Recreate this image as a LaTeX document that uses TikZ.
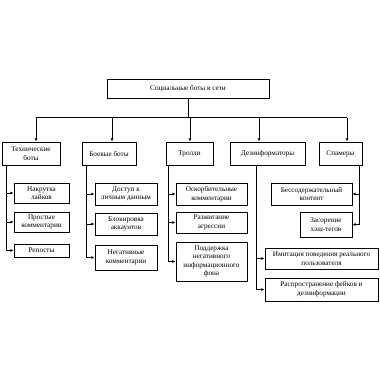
\documentclass[tikz,border=0pt]{standalone}
\usepackage{fontspec}
\setmainfont{Liberation Serif}
\usetikzlibrary{arrows.meta}
\begin{document}
\begin{tikzpicture}[x=1pt,y=-1pt,
  box/.style={draw,line width=0.9pt,align=center,inner sep=0pt,
    font=\fontsize{7.2}{8.6}\selectfont},
  conn/.style={line width=0.7pt},
  arr/.style={line width=0.7pt,-{Latex[length=3.2pt,width=3pt]}}]
\useasboundingbox (0,0) rectangle (380,380);
\fill[white] (0,0) rectangle (380,380);
% top
\node[box,minimum width=162pt,minimum height=19pt] (top) at (188,88.5) {Социальные боты в сети};
% level 1
\node[box,minimum width=58pt,minimum height=23pt] (tech) at (31,153.5) {Технические\\боты};
\node[box,minimum width=54pt,minimum height=23pt] (boev) at (109,153.5) {Боевые боты};
\node[box,minimum width=47pt,minimum height=23pt] (troll) at (189.5,153.5) {Тролли};
\node[box,minimum width=75pt,minimum height=23pt] (dez) at (267.5,153.5) {Дезинформаторы};
\node[box,minimum width=43pt,minimum height=23pt] (spam) at (340.5,153.5) {Спамеры};
% bus
\coordinate (bus) at (188,117.5);
\draw[conn] (top.south) -- (bus);
\draw[conn] (bus -| 36,0) -- (bus -| 347,0);
\draw[arr] (bus -| 36,0) -- (tech.north -| 36,0);
\draw[arr] (bus -| 112,0) -- (boev.north -| 112,0);
\draw[arr] (bus -| 190,0) -- (troll.north -| 190,0);
\draw[arr] (bus -| 259,0) -- (dez.north -| 259,0);
\draw[arr] (bus -| 347,0) -- (spam.north -| 347,0);
% level 2: tech
\node[box,minimum width=55pt,minimum height=20pt] (t1) at (41.5,193) {Накрутка\\лайков};
\node[box,minimum width=55pt,minimum height=20pt] (t2) at (41.5,222) {Простые\\комментарии};
\node[box,minimum width=55pt,minimum height=13pt] (t3) at (41.5,250.5) {Репосты};
\draw[conn] (tech.south -| 6,0) -- (t3.west -| 6,0);
\draw[arr] (t1.west -| 6,0) -- (t1.west);
\draw[arr] (t2.west -| 6,0) -- (t2.west);
\draw[arr] (t3.west -| 6,0) -- (t3.west);
% boev
\node[box,minimum width=62pt,minimum height=22pt] (b1) at (126,194) {Доступ к\\личным данным};
\node[box,minimum width=62pt,minimum height=22pt] (b2) at (126,224) {Блокировка\\аккаунтов};
\node[box,minimum width=62pt,minimum height=25pt] (b3) at (126,257.5) {Негативные\\комментарии};
\draw[conn] (boev.south -| 86,0) -- (b3.west -| 86,0);
\draw[arr] (b1.west -| 86,0) -- (b1.west);
\draw[arr] (b2.west -| 86,0) -- (b2.west);
\draw[arr] (b3.west -| 86,0) -- (b3.west);
% troll
\node[box,minimum width=71pt,minimum height=22pt] (r1) at (211.5,194) {Оскорбительные\\комментарии};
\node[box,minimum width=71pt,minimum height=21pt] (r2) at (211.5,222.5) {Разжигание\\агрессии};
\node[box,minimum width=71pt,minimum height=39pt] (r3) at (211.5,261.5) {Поддержка\\негативного\\информационного\\фона};
\draw[conn] (troll.south -| 168,0) -- (r3.west -| 168,0);
\draw[arr] (r1.west -| 168,0) -- (r1.west);
\draw[arr] (r2.west -| 168,0) -- (r2.west);
\draw[arr] (r3.west -| 168,0) -- (r3.west);
% dez
\node[box,minimum width=113pt,minimum height=21pt] (d1) at (321.5,258.5) {Имитация поведения реального\\пользователя};
\node[box,minimum width=113pt,minimum height=23pt] (d2) at (321.5,289.5) {Распространение фейков и\\дезинформации};
\draw[conn] (dez.south -| 256.5,0) -- (d2.west -| 256.5,0);
\draw[arr] (d1.west -| 256.5,0) -- (d1.west);
\draw[arr] (d2.west -| 256.5,0) -- (d2.west);
% spam
\node[box,minimum width=81pt,minimum height=22pt] (s1) at (311.5,194) {Бессодержательный\\контент};
\node[box,minimum width=52pt,minimum height=25pt] (s2) at (326,224.5) {Засорение\\хэш-тегов};
\draw[conn] (spam.south -| 359,0) -- (s2.east -| 359,0);
\draw[arr] (s1.east -| 359,0) -- (s1.east);
\draw[arr] (s2.east -| 359,0) -- (s2.east);
\end{tikzpicture}
\end{document}
